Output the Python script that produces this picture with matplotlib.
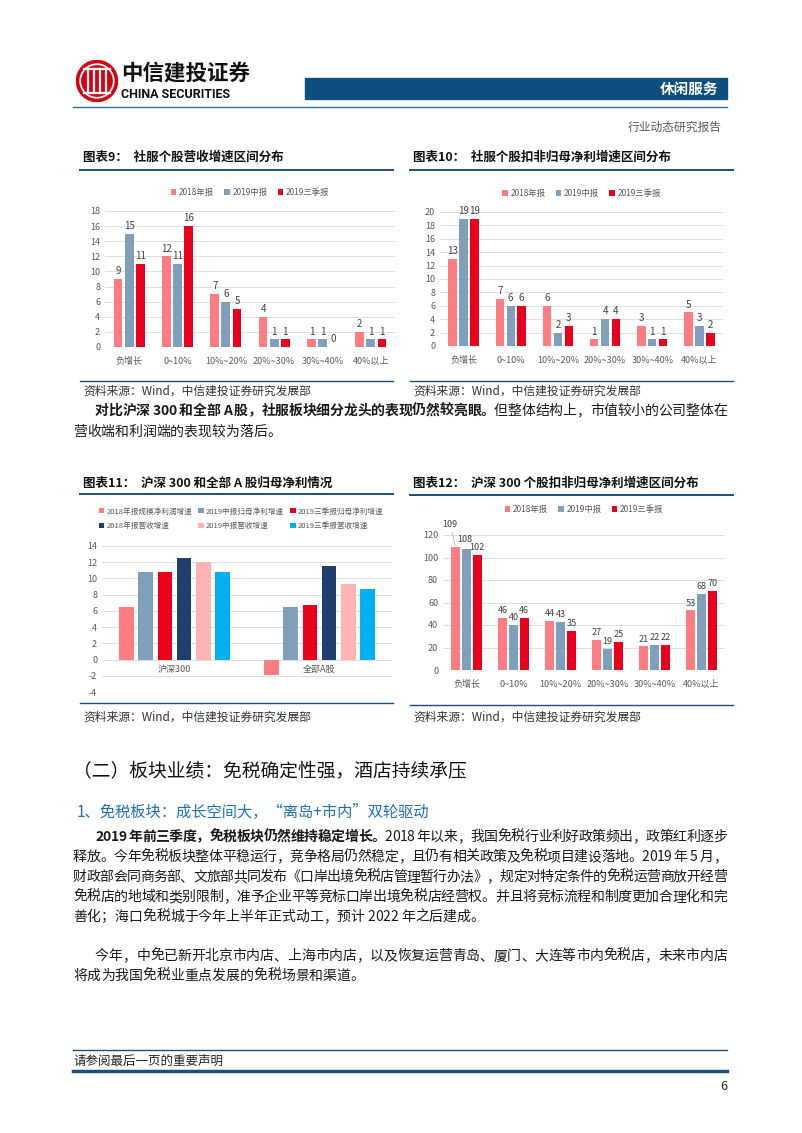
import matplotlib
matplotlib.use("Agg")
import matplotlib.pyplot as plt
from matplotlib.patches import Rectangle, Circle
from matplotlib.lines import Line2D
from matplotlib.font_manager import FontProperties
import numpy as np

plt.rcParams['font.family'] = ['Noto Sans CJK SC', 'DejaVu Sans']
plt.rcParams['axes.unicode_minus'] = False

W, H = 802, 1133

# ── Data ──────────────────────────────────────────────────────────────
ranges = ["负增长", "0~10%", "10%~20%", "20%~30%", "30%~40%", "40%以上"]
report_names = ["2018年报", "2019中报", "2019三季报"]

rev_2018 = [9, 12, 7, 4, 1, 2]
rev_2019h = [15, 11, 6, 1, 1, 1]
rev_2019q3 = [11, 16, 5, 1, 0, 1]

np_2018 = [13, 7, 6, 1, 3, 5]
np_2019h = [19, 6, 2, 4, 1, 3]
np_2019q3 = [19, 6, 3, 4, 1, 2]

hs_2018 = [109, 46, 44, 27, 21, 53]
hs_2019h = [108, 40, 43, 19, 22, 68]
hs_2019q3 = [102, 46, 35, 25, 22, 70]

idx_names = ["沪深300", "全部A股"]
idx_series = ["2018年报规模净利润增速", "2019中报归母净利增速", "2019三季报归母净利增速",
              "2018年报营收增速", "2019中报营收增速", "2019三季报营收增速"]
idx_values = [
    [6.5, -1.85],
    [10.8, 6.5],
    [10.8, 6.75],
    [12.5, 11.5],
    [12.0, 9.3],
    [10.8, 8.65],
]

# ── Style ─────────────────────────────────────────────────────────────
PINK = "#FF7C80"
STEEL = "#7F9FBA"
RED = "#E8001C"
NAVY = "#1F3F6E"
LIGHT_PINK = "#FFB3B3"
CYAN = "#00B0F0"
DARK_BLUE = "#1F4E79"
TICK_C = "#595959"
GRID_C = "#D9D9D9"
idx_colors = [PINK, STEEL, RED, NAVY, LIGHT_PINK, CYAN]
rep_colors = [PINK, STEEL, RED]

fig = plt.figure(figsize=(W / 100, H / 100), dpi=100)
renderer = fig.canvas.get_renderer()


def fx(x):
    return x / W


def fy(y):
    return 1 - y / H


def hline(x0, x1, y, color=DARK_BLUE, lw=1.0):
    fig.add_artist(Line2D([fx(x0), fx(x1)], [fy(y), fy(y)], color=color, lw=lw))


def txt(x, y, s, **kw):
    kw.setdefault("va", "center")
    fig.text(fx(x), fy(y), s, **kw)


def rich_line(x0, y, segs, x1=None, size=10):
    """Draw text segments char by char; justify to x1 if given."""
    chars = []
    for s, weight in segs:
        fp = FontProperties(family=['Noto Sans CJK SC', 'DejaVu Sans'], weight=weight, size=size)
        for c in s:
            if c == " ":
                w = size * 0.28
            else:
                w = renderer.get_text_width_height_descent(c, fp, ismath=False)[0]
            chars.append((c, weight, w))
    total = sum(c[2] for c in chars)
    gap = 0
    if x1 is not None and len(chars) > 1:
        gap = (x1 - x0 - total) / (len(chars) - 1)
    x = x0
    for c, weight, w in chars:
        if c != " ":
            fig.text(fx(x), fy(y), c, fontsize=size, fontweight=weight,
                     va="center", ha="left", color="#1a1a1a")
        x += w + gap


def add_axes(l, t, r, b):
    return fig.add_axes([fx(l), fy(b), (r - l) / W, (b - t) / H])


def style_axes(ax, ymin, ymax, step):
    ax.set_ylim(ymin, ymax)
    ax.set_yticks(np.arange(ymin, ymax + 0.01, step))
    ax.grid(axis="y", color=GRID_C, lw=0.6)
    ax.set_axisbelow(True)
    for sp in ax.spines.values():
        sp.set_visible(False)
    ax.tick_params(axis="both", length=0, labelsize=6.5, colors=TICK_C)
    for lab in ax.get_yticklabels():
        lab.set_color(TICK_C)


def grouped_bars(ax, series, width, pitch, label_fs=7):
    x = np.arange(len(ranges))
    for i, vals in enumerate(series):
        pos = x + (i - 1) * pitch
        ax.bar(pos, vals, width, color=rep_colors[i], label=report_names[i], zorder=2)
        for p, v in zip(pos, vals):
            ax.annotate(str(v), (p, v), xytext=(0, 2), textcoords="offset points",
                        ha="center", va="bottom", fontsize=label_fs, color="#404040")
    ax.set_xlim(-0.5, len(ranges) - 0.5)
    ax.set_xticks(x)
    ax.set_xticklabels(ranges)
    ax.tick_params(axis="x", pad=7)


def chart_frame(x0, x1, y_title, y_line, y_src_line, y_src, title):
    txt(x0 + 3, y_title, title, fontsize=9, fontweight="bold", color="#111111")
    hline(x0, x1, y_line, lw=1.4)
    hline(x0, x1, y_src_line, lw=1.0)
    txt(x0 + 3, y_src, "资料来源：Wind，中信建投证券研究发展部", fontsize=8.5,
        color="#333333", style="italic")


# ── Header ────────────────────────────────────────────────────────────
lax = fig.add_axes([fx(76), fy(102), 42 / W, 42 / H])
lax.set_xlim(-1, 1)
lax.set_ylim(-1, 1)
lax.set_aspect("equal")
lax.axis("off")
lax.add_patch(Circle((0, 0), 0.98, color="#D7000F"))
lax.add_patch(Circle((0, 0), 0.80, fill=False, ec="white", lw=1.3))
for xv in [-0.45, -0.15, 0.15, 0.45]:
    lax.plot([xv, xv], [-0.55, 0.55], color="white", lw=1.6)
lax.plot([-0.6, 0.6], [0.55, 0.55], color="white", lw=1.6)
lax.plot([-0.6, 0.6], [-0.55, -0.55], color="white", lw=1.6)

txt(121, 73, "中信建投证券", fontsize=15.5, fontweight="bold", color="#111111")
txt(121, 94, "CHINA SECURITIES", fontsize=9, fontweight="bold", color="#111111",
    family="Roboto")
fig.add_artist(Rectangle((fx(305), fy(99)), (727 - 305) / W, 21 / H,
                         color="#0D4F80", transform=fig.transFigure))
txt(718, 88.5, "休闲服务", fontsize=10.5, fontweight="bold", color="white", ha="right")
hline(73, 727, 107, color="#2E6DA4", lw=1.0)
txt(722, 127, "行业动态研究报告", fontsize=8.5, color="#595959", ha="right")

# ── Chart 9 ───────────────────────────────────────────────────────────
chart_frame(80, 393, 157, 170, 381, 391, "图表9：  社服个股营收增速区间分布")
ax9 = add_axes(105, 211, 395, 347)
style_axes(ax9, 0, 18, 2)
grouped_bars(ax9, [rev_2018, rev_2019h, rev_2019q3], 0.18, 0.23)
ax9.legend(loc="lower center", bbox_to_anchor=(0.5, 1.05), ncol=3, frameon=False,
           fontsize=6, handlelength=0.7, handleheight=0.7, handletextpad=0.3,
           columnspacing=1.2, labelcolor=TICK_C)

# ── Chart 10 ──────────────────────────────────────────────────────────
chart_frame(410, 733, 157, 170, 381, 391, "图表10：  社服个股扣非归母净利增速区间分布")
ax10 = add_axes(440, 212, 723, 346)
style_axes(ax10, 0, 20, 2)
grouped_bars(ax10, [np_2018, np_2019h, np_2019q3], 0.18, 0.23)
ax10.legend(loc="lower center", bbox_to_anchor=(0.5, 1.05), ncol=3, frameon=False,
            fontsize=6, handlelength=0.7, handleheight=0.7, handletextpad=0.3,
            columnspacing=1.2, labelcolor=TICK_C)

# ── Paragraph 1 ───────────────────────────────────────────────────────
rich_line(95, 411, [("对比沪深 300 和全部 A 股，社服板块细分龙头的表现仍然较亮眼。", "bold"),
                    ("但整体结构上，市值较小的公司整体在", "normal")], x1=727, size=10)
rich_line(73, 432, [("营收端和利润端的表现较为落后。", "normal")], size=10)

# ── Chart 11 ──────────────────────────────────────────────────────────
chart_frame(80, 393, 483, 494, 703, 717, "图表11：  沪深 300 和全部 A 股归母净利情况")
ax11 = add_axes(102, 546, 392, 692)
style_axes(ax11, -4, 14, 2)
xi = np.arange(len(idx_names))
for i, vals in enumerate(idx_values):
    ax11.bar(xi + (i - 2.5) * 0.133, vals, 0.1, color=idx_colors[i],
             label=idx_series[i], zorder=2)
ax11.set_xlim(-0.5, 1.5)
ax11.set_xticks([])
for i, name in enumerate(idx_names):
    ax11.annotate(name, (i, 0), xytext=(0, -4), textcoords="offset points",
                  ha="center", va="top", fontsize=6.5, color=TICK_C)
h, l = ax11.get_legend_handles_labels()
order = [0, 3, 1, 4, 2, 5]
ax11.legend([h[k] for k in order], [l[k] for k in order], loc="lower center",
            bbox_to_anchor=(0.48, 1.06), ncol=3, frameon=False, fontsize=5.5,
            handlelength=0.7, handleheight=0.7, handletextpad=0.3,
            columnspacing=0.8, labelcolor=TICK_C, labelspacing=0.9)

# ── Chart 12 ──────────────────────────────────────────────────────────
chart_frame(410, 733, 483, 495, 705, 717, "图表12：  沪深 300 个股扣非归母净利增速区间分布")
ax12 = add_axes(443, 535, 725, 670)
style_axes(ax12, 0, 120, 20)
x12 = np.arange(len(ranges))
for i, vals in enumerate([hs_2018, hs_2019h, hs_2019q3]):
    pos = x12 + (i - 1) * 0.23
    ax12.bar(pos, vals, 0.18, color=rep_colors[i], label=report_names[i], zorder=2)
    for j, (p, v) in enumerate(zip(pos, vals)):
        if i == 0 and j == 0:
            # leader-lined label, as in the source chart
            ax12.annotate(str(v), (p, v), xytext=(-4, 13), textcoords="offset points",
                          ha="center", va="bottom", fontsize=6.5, color="#404040",
                          arrowprops=dict(arrowstyle="-", color="#A6A6A6", lw=0.5,
                                          shrinkA=0, shrinkB=1))
        elif i == 1 and j == 0:
            ax12.annotate(str(v), (p, v), xytext=(-1, 3), textcoords="offset points",
                          ha="center", va="bottom", fontsize=6.5, color="#404040")
        else:
            ax12.annotate(str(v), (p, v), xytext=(0, 2), textcoords="offset points",
                          ha="center", va="bottom", fontsize=6.5, color="#404040")
ax12.set_xlim(-0.5, len(ranges) - 0.5)
ax12.set_xticks(x12)
ax12.set_xticklabels(ranges)
ax12.tick_params(axis="x", pad=7)
ax12.legend(loc="lower center", bbox_to_anchor=(0.5, 1.1), ncol=3, frameon=False,
            fontsize=6, handlelength=0.7, handleheight=0.7, handletextpad=0.3,
            columnspacing=1.2, labelcolor=TICK_C)

# ── Section text ──────────────────────────────────────────────────────
txt(73, 772, "（二）板块业绩：免税确定性强，酒店持续承压", fontsize=13.5, color="#111111")
txt(77, 812, "1、免税板块：成长空间大，“离岛+市内”双轮驱动", fontsize=11, color="#1E6FB5")

rich_line(95, 837, [("2019 年前三季度，免税板块仍然维持稳定增长。", "bold"),
                    ("2018 年以来，我国免税行业利好政策频出，政策红利逐步", "normal")],
          x1=727, size=10)
rich_line(73, 857, [("释放。今年免税板块整体平稳运行，竞争格局仍然稳定，且仍有相关政策及免税项目建设落地。2019 年 5 月，", "normal")],
          x1=727, size=10)
rich_line(73, 877, [("财政部会同商务部、文旅部共同发布《口岸出境免税店管理暂行办法》，规定对特定条件的免税运营商放开经营", "normal")],
          x1=727, size=10)
rich_line(73, 897, [("免税店的地域和类别限制，准予企业平等竞标口岸出境免税店经营权。并且将竞标流程和制度更加合理化和完", "normal")],
          x1=727, size=10)
rich_line(73, 917, [("善化；海口免税城于今年上半年正式动工，预计 2022 年之后建成。", "normal")], size=10)

rich_line(95, 956, [("今年，中免已新开北京市内店、上海市内店，以及恢复运营青岛、厦门、大连等市内免税店，未来市内店", "normal")],
          x1=727, size=10)
rich_line(73, 976, [("将成为我国免税业重点发展的免税场景和渠道。", "normal")], size=10)

# ── Footer ────────────────────────────────────────────────────────────
hline(73, 727, 1050, color=DARK_BLUE, lw=1.0)
txt(73, 1061, "请参阅最后一页的重要声明", fontsize=9, color="#222222")
hline(73, 727, 1071, color=DARK_BLUE, lw=2.5)
txt(727, 1086, "6", fontsize=9, color="#222222", ha="right")

fig.savefig("out.png", dpi=100)
